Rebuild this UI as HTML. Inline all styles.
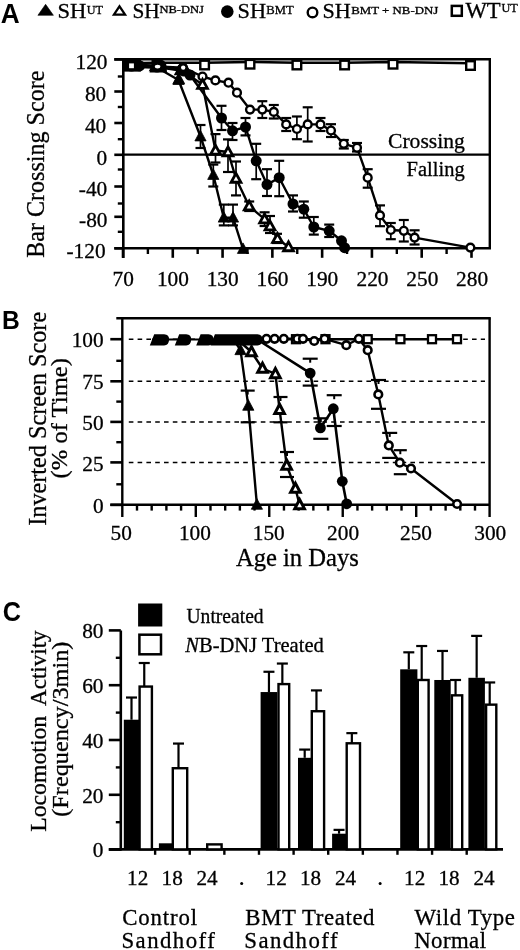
<!DOCTYPE html>
<html><head><meta charset="utf-8"><title>Figure</title>
<style>
html,body{margin:0;padding:0;background:#fff;}
body{width:520px;height:950px;overflow:hidden;font-family:"Liberation Serif", serif;}
svg{display:block;filter:grayscale(1);}
</style></head>
<body>
<svg width="520" height="950" viewBox="0 0 520 950">
<rect width="520" height="950" fill="#fff"/>
<polygon points="37.9,15.3 53.4,15.3 45.6,4.3" fill="#000" stroke="#000" stroke-width="0.6" stroke-linejoin="round"/>
<polygon points="113.9,14.6 125.1,14.6 119.5,6.3" fill="#fff" stroke="#000" stroke-width="2.2"/>
<circle cx="227.3" cy="11.6" r="6.3" fill="#000"/>
<circle cx="312.5" cy="12.4" r="4.8" fill="#fff" stroke="#000" stroke-width="2.4"/>
<rect x="451.8" y="5.9" width="10" height="9.9" fill="#fff" stroke="#000" stroke-width="2.5"/>
<line x1="123.3" y1="58.1" x2="123.3" y2="258" stroke="#000" stroke-width="2.6" />
<line x1="114.3" y1="59.3" x2="491" y2="59.3" stroke="#000" stroke-width="2.6" />
<line x1="489.8" y1="59.3" x2="489.8" y2="248.3" stroke="#000" stroke-width="2.4" />
<line x1="114.3" y1="248.3" x2="491" y2="248.3" stroke="#000" stroke-width="2.6" />
<line x1="114.3" y1="59.5" x2="123.3" y2="59.5" stroke="#000" stroke-width="2.6" />
<line x1="114.3" y1="91.5" x2="123.3" y2="91.5" stroke="#000" stroke-width="2.6" />
<line x1="114.3" y1="123" x2="123.3" y2="123" stroke="#000" stroke-width="2.6" />
<line x1="114.3" y1="154.8" x2="123.3" y2="154.8" stroke="#000" stroke-width="2.6" />
<line x1="114.3" y1="186.5" x2="123.3" y2="186.5" stroke="#000" stroke-width="2.6" />
<line x1="114.3" y1="216.8" x2="123.3" y2="216.8" stroke="#000" stroke-width="2.6" />
<line x1="114.3" y1="248.3" x2="123.3" y2="248.3" stroke="#000" stroke-width="2.6" />
<line x1="117.8" y1="76.5" x2="123.3" y2="76.5" stroke="#000" stroke-width="2.4" />
<line x1="117.8" y1="107" x2="123.3" y2="107" stroke="#000" stroke-width="2.4" />
<line x1="117.8" y1="139.2" x2="123.3" y2="139.2" stroke="#000" stroke-width="2.4" />
<line x1="117.8" y1="169.5" x2="123.3" y2="169.5" stroke="#000" stroke-width="2.4" />
<line x1="117.8" y1="203.5" x2="123.3" y2="203.5" stroke="#000" stroke-width="2.4" />
<line x1="117.8" y1="231.8" x2="123.3" y2="231.8" stroke="#000" stroke-width="2.4" />
<line x1="123" y1="248.3" x2="123" y2="257.8" stroke="#000" stroke-width="2.6" />
<line x1="147.89" y1="248.3" x2="147.89" y2="254" stroke="#000" stroke-width="2.4" />
<line x1="172.78" y1="248.3" x2="172.78" y2="257.8" stroke="#000" stroke-width="2.6" />
<line x1="197.68" y1="248.3" x2="197.68" y2="254" stroke="#000" stroke-width="2.4" />
<line x1="222.57" y1="248.3" x2="222.57" y2="257.8" stroke="#000" stroke-width="2.6" />
<line x1="247.46" y1="248.3" x2="247.46" y2="254" stroke="#000" stroke-width="2.4" />
<line x1="272.36" y1="248.3" x2="272.36" y2="257.8" stroke="#000" stroke-width="2.6" />
<line x1="297.25" y1="248.3" x2="297.25" y2="254" stroke="#000" stroke-width="2.4" />
<line x1="322.14" y1="248.3" x2="322.14" y2="257.8" stroke="#000" stroke-width="2.6" />
<line x1="347.03" y1="248.3" x2="347.03" y2="254" stroke="#000" stroke-width="2.4" />
<line x1="371.92" y1="248.3" x2="371.92" y2="257.8" stroke="#000" stroke-width="2.6" />
<line x1="396.82" y1="248.3" x2="396.82" y2="254" stroke="#000" stroke-width="2.4" />
<line x1="421.71" y1="248.3" x2="421.71" y2="257.8" stroke="#000" stroke-width="2.6" />
<line x1="446.6" y1="248.3" x2="446.6" y2="254" stroke="#000" stroke-width="2.4" />
<line x1="471.5" y1="248.3" x2="471.5" y2="257.8" stroke="#000" stroke-width="2.6" />
<line x1="123.3" y1="154.6" x2="489.8" y2="154.6" stroke="#000" stroke-width="2.2" />
<polyline points="131.5,63.3 157,62.8 204.6,62.8 250,62 296.9,62.8 344.6,62.8 393,62 470.5,63.3" fill="none" stroke="#000" stroke-width="2.4" stroke-linejoin="round"/>
<polyline points="131.5,66 157.5,66.5 183,67.7 202.5,76.5 215.4,80.4 228.5,82.7 237,92.7 250,109.6 262.3,109.6 273.8,111.9 286.2,124.4 296.9,129 307.7,124.4 320.5,124.4 331,130.5 343.8,143.8 357,147.7 367.7,177.7 380,215.4 390.8,230 403.8,230.8 414.6,237.6 470.4,247.6" fill="none" stroke="#000" stroke-width="2.4" stroke-linejoin="round"/>
<polyline points="131.5,66 157,67 184,71 190,75 221.5,118 232.5,130.8 245.5,127 256.2,160.8 267,184.6 279.2,177.7 293,204 303.8,209.2 313.8,227 329.2,230.8 341.5,240.8 344.6,247.7" fill="none" stroke="#000" stroke-width="2.4" stroke-linejoin="round"/>
<polyline points="131.5,66 156,66 181,70 202.5,84.6 215.5,150.5 228,152 236,178.5 249.2,206.2 264.6,219.2 270,226.2 277.5,238.7 288.5,247" fill="none" stroke="#000" stroke-width="2.4" stroke-linejoin="round"/>
<polyline points="131.5,66 156,67 178.5,80 200.5,136.5 213.3,175 223.8,217.7 233,217.7 243,249" fill="none" stroke="#000" stroke-width="2.4" stroke-linejoin="round"/>
<line x1="262.3" y1="101.2" x2="262.3" y2="118" stroke="#000" stroke-width="1.7" />
<line x1="257.3" y1="101.2" x2="267.3" y2="101.2" stroke="#000" stroke-width="2.2" />
<line x1="257.3" y1="118" x2="267.3" y2="118" stroke="#000" stroke-width="2.2" />
<line x1="273.8" y1="105" x2="273.8" y2="118.5" stroke="#000" stroke-width="1.7" />
<line x1="268.8" y1="105" x2="278.8" y2="105" stroke="#000" stroke-width="2.2" />
<line x1="268.8" y1="118.5" x2="278.8" y2="118.5" stroke="#000" stroke-width="2.2" />
<line x1="286.2" y1="118" x2="286.2" y2="131" stroke="#000" stroke-width="1.7" />
<line x1="281.2" y1="118" x2="291.2" y2="118" stroke="#000" stroke-width="2.2" />
<line x1="281.2" y1="131" x2="291.2" y2="131" stroke="#000" stroke-width="2.2" />
<line x1="296.9" y1="116.5" x2="296.9" y2="139.2" stroke="#000" stroke-width="1.7" />
<line x1="291.9" y1="116.5" x2="301.9" y2="116.5" stroke="#000" stroke-width="2.2" />
<line x1="291.9" y1="139.2" x2="301.9" y2="139.2" stroke="#000" stroke-width="2.2" />
<line x1="307.7" y1="107.3" x2="307.7" y2="141.5" stroke="#000" stroke-width="1.7" />
<line x1="302.7" y1="107.3" x2="312.7" y2="107.3" stroke="#000" stroke-width="2.2" />
<line x1="302.7" y1="141.5" x2="312.7" y2="141.5" stroke="#000" stroke-width="2.2" />
<line x1="320.5" y1="118" x2="320.5" y2="131" stroke="#000" stroke-width="1.7" />
<line x1="315.5" y1="118" x2="325.5" y2="118" stroke="#000" stroke-width="2.2" />
<line x1="315.5" y1="131" x2="325.5" y2="131" stroke="#000" stroke-width="2.2" />
<line x1="331" y1="124.2" x2="331" y2="137" stroke="#000" stroke-width="1.7" />
<line x1="326" y1="124.2" x2="336" y2="124.2" stroke="#000" stroke-width="2.2" />
<line x1="326" y1="137" x2="336" y2="137" stroke="#000" stroke-width="2.2" />
<line x1="343.8" y1="140" x2="343.8" y2="148.5" stroke="#000" stroke-width="1.7" />
<line x1="338.8" y1="140" x2="348.8" y2="140" stroke="#000" stroke-width="2.2" />
<line x1="338.8" y1="148.5" x2="348.8" y2="148.5" stroke="#000" stroke-width="2.2" />
<line x1="357" y1="143" x2="357" y2="151.5" stroke="#000" stroke-width="1.7" />
<line x1="352" y1="143" x2="362" y2="143" stroke="#000" stroke-width="2.2" />
<line x1="352" y1="151.5" x2="362" y2="151.5" stroke="#000" stroke-width="2.2" />
<line x1="367.7" y1="169.2" x2="367.7" y2="187.7" stroke="#000" stroke-width="1.7" />
<line x1="362.7" y1="169.2" x2="372.7" y2="169.2" stroke="#000" stroke-width="2.2" />
<line x1="362.7" y1="187.7" x2="372.7" y2="187.7" stroke="#000" stroke-width="2.2" />
<line x1="380" y1="205.4" x2="380" y2="226.2" stroke="#000" stroke-width="1.7" />
<line x1="375" y1="205.4" x2="385" y2="205.4" stroke="#000" stroke-width="2.2" />
<line x1="375" y1="226.2" x2="385" y2="226.2" stroke="#000" stroke-width="2.2" />
<line x1="390.8" y1="223" x2="390.8" y2="239.2" stroke="#000" stroke-width="1.7" />
<line x1="385.8" y1="223" x2="395.8" y2="223" stroke="#000" stroke-width="2.2" />
<line x1="385.8" y1="239.2" x2="395.8" y2="239.2" stroke="#000" stroke-width="2.2" />
<line x1="403.8" y1="220" x2="403.8" y2="241.5" stroke="#000" stroke-width="1.7" />
<line x1="398.8" y1="220" x2="408.8" y2="220" stroke="#000" stroke-width="2.2" />
<line x1="398.8" y1="241.5" x2="408.8" y2="241.5" stroke="#000" stroke-width="2.2" />
<line x1="414.6" y1="230.3" x2="414.6" y2="244.5" stroke="#000" stroke-width="1.7" />
<line x1="409.6" y1="230.3" x2="419.6" y2="230.3" stroke="#000" stroke-width="2.2" />
<line x1="409.6" y1="244.5" x2="419.6" y2="244.5" stroke="#000" stroke-width="2.2" />
<line x1="221.5" y1="105.8" x2="221.5" y2="130" stroke="#000" stroke-width="1.7" />
<line x1="216.5" y1="105.8" x2="226.5" y2="105.8" stroke="#000" stroke-width="2.2" />
<line x1="216.5" y1="130" x2="226.5" y2="130" stroke="#000" stroke-width="2.2" />
<line x1="232.5" y1="123" x2="232.5" y2="140" stroke="#000" stroke-width="1.7" />
<line x1="227.5" y1="123" x2="237.5" y2="123" stroke="#000" stroke-width="2.2" />
<line x1="227.5" y1="140" x2="237.5" y2="140" stroke="#000" stroke-width="2.2" />
<line x1="245.5" y1="118" x2="245.5" y2="135.4" stroke="#000" stroke-width="1.7" />
<line x1="240.5" y1="118" x2="250.5" y2="118" stroke="#000" stroke-width="2.2" />
<line x1="240.5" y1="135.4" x2="250.5" y2="135.4" stroke="#000" stroke-width="2.2" />
<line x1="256.2" y1="143.8" x2="256.2" y2="179.2" stroke="#000" stroke-width="1.7" />
<line x1="251.2" y1="143.8" x2="261.2" y2="143.8" stroke="#000" stroke-width="2.2" />
<line x1="251.2" y1="179.2" x2="261.2" y2="179.2" stroke="#000" stroke-width="2.2" />
<line x1="267" y1="169.2" x2="267" y2="196" stroke="#000" stroke-width="1.7" />
<line x1="262" y1="169.2" x2="272" y2="169.2" stroke="#000" stroke-width="2.2" />
<line x1="262" y1="196" x2="272" y2="196" stroke="#000" stroke-width="2.2" />
<line x1="279.2" y1="160.8" x2="279.2" y2="196.2" stroke="#000" stroke-width="1.7" />
<line x1="274.2" y1="160.8" x2="284.2" y2="160.8" stroke="#000" stroke-width="2.2" />
<line x1="274.2" y1="196.2" x2="284.2" y2="196.2" stroke="#000" stroke-width="2.2" />
<line x1="293" y1="195.4" x2="293" y2="211.5" stroke="#000" stroke-width="1.7" />
<line x1="288" y1="195.4" x2="298" y2="195.4" stroke="#000" stroke-width="2.2" />
<line x1="288" y1="211.5" x2="298" y2="211.5" stroke="#000" stroke-width="2.2" />
<line x1="303.8" y1="201.5" x2="303.8" y2="217.7" stroke="#000" stroke-width="1.7" />
<line x1="298.8" y1="201.5" x2="308.8" y2="201.5" stroke="#000" stroke-width="2.2" />
<line x1="298.8" y1="217.7" x2="308.8" y2="217.7" stroke="#000" stroke-width="2.2" />
<line x1="313.8" y1="217" x2="313.8" y2="234.6" stroke="#000" stroke-width="1.7" />
<line x1="308.8" y1="217" x2="318.8" y2="217" stroke="#000" stroke-width="2.2" />
<line x1="308.8" y1="234.6" x2="318.8" y2="234.6" stroke="#000" stroke-width="2.2" />
<line x1="329.2" y1="224.6" x2="329.2" y2="237" stroke="#000" stroke-width="1.7" />
<line x1="324.2" y1="224.6" x2="334.2" y2="224.6" stroke="#000" stroke-width="2.2" />
<line x1="324.2" y1="237" x2="334.2" y2="237" stroke="#000" stroke-width="2.2" />
<line x1="215.5" y1="134.1" x2="215.5" y2="162.5" stroke="#000" stroke-width="1.7" />
<line x1="210.5" y1="134.1" x2="220.5" y2="134.1" stroke="#000" stroke-width="2.2" />
<line x1="210.5" y1="162.5" x2="220.5" y2="162.5" stroke="#000" stroke-width="2.2" />
<line x1="228" y1="139.4" x2="228" y2="172" stroke="#000" stroke-width="1.7" />
<line x1="223" y1="139.4" x2="233" y2="139.4" stroke="#000" stroke-width="2.2" />
<line x1="223" y1="172" x2="233" y2="172" stroke="#000" stroke-width="2.2" />
<line x1="236" y1="161.5" x2="236" y2="195.4" stroke="#000" stroke-width="1.7" />
<line x1="231" y1="161.5" x2="241" y2="161.5" stroke="#000" stroke-width="2.2" />
<line x1="231" y1="195.4" x2="241" y2="195.4" stroke="#000" stroke-width="2.2" />
<line x1="249.2" y1="201.5" x2="249.2" y2="211" stroke="#000" stroke-width="1.7" />
<line x1="244.2" y1="201.5" x2="254.2" y2="201.5" stroke="#000" stroke-width="2.2" />
<line x1="244.2" y1="211" x2="254.2" y2="211" stroke="#000" stroke-width="2.2" />
<line x1="264.6" y1="212.3" x2="264.6" y2="226" stroke="#000" stroke-width="1.7" />
<line x1="259.6" y1="212.3" x2="269.6" y2="212.3" stroke="#000" stroke-width="2.2" />
<line x1="259.6" y1="226" x2="269.6" y2="226" stroke="#000" stroke-width="2.2" />
<line x1="270" y1="216" x2="270" y2="233" stroke="#000" stroke-width="1.7" />
<line x1="265" y1="216" x2="275" y2="216" stroke="#000" stroke-width="2.2" />
<line x1="265" y1="233" x2="275" y2="233" stroke="#000" stroke-width="2.2" />
<line x1="277" y1="233.8" x2="277" y2="243" stroke="#000" stroke-width="1.7" />
<line x1="272" y1="233.8" x2="282" y2="233.8" stroke="#000" stroke-width="2.2" />
<line x1="272" y1="243" x2="282" y2="243" stroke="#000" stroke-width="2.2" />
<line x1="200.5" y1="125" x2="200.5" y2="148" stroke="#000" stroke-width="1.7" />
<line x1="195.5" y1="125" x2="205.5" y2="125" stroke="#000" stroke-width="2.2" />
<line x1="195.5" y1="148" x2="205.5" y2="148" stroke="#000" stroke-width="2.2" />
<line x1="213.3" y1="164.6" x2="213.3" y2="186.5" stroke="#000" stroke-width="1.7" />
<line x1="208.3" y1="164.6" x2="218.3" y2="164.6" stroke="#000" stroke-width="2.2" />
<line x1="208.3" y1="186.5" x2="218.3" y2="186.5" stroke="#000" stroke-width="2.2" />
<line x1="223.8" y1="204.6" x2="223.8" y2="225.4" stroke="#000" stroke-width="1.7" />
<line x1="218.8" y1="204.6" x2="228.8" y2="204.6" stroke="#000" stroke-width="2.2" />
<line x1="218.8" y1="225.4" x2="228.8" y2="225.4" stroke="#000" stroke-width="2.2" />
<line x1="233" y1="204.6" x2="233" y2="225.4" stroke="#000" stroke-width="1.7" />
<line x1="228" y1="204.6" x2="238" y2="204.6" stroke="#000" stroke-width="2.2" />
<line x1="228" y1="225.4" x2="238" y2="225.4" stroke="#000" stroke-width="2.2" />
<rect x="127.2" y="61.2" width="8.6" height="8.6" fill="#fff" stroke="#000" stroke-width="2.4"/>
<rect x="152.7" y="60.7" width="8.6" height="8.6" fill="#fff" stroke="#000" stroke-width="2.4"/>
<rect x="200.3" y="60.7" width="8.6" height="8.6" fill="#fff" stroke="#000" stroke-width="2.4"/>
<rect x="245.7" y="59.9" width="8.6" height="8.6" fill="#fff" stroke="#000" stroke-width="2.4"/>
<rect x="292.6" y="60.7" width="8.6" height="8.6" fill="#fff" stroke="#000" stroke-width="2.4"/>
<rect x="340.3" y="60.7" width="8.6" height="8.6" fill="#fff" stroke="#000" stroke-width="2.4"/>
<rect x="388.7" y="59.9" width="8.6" height="8.6" fill="#fff" stroke="#000" stroke-width="2.4"/>
<rect x="466.2" y="61.2" width="8.6" height="8.6" fill="#fff" stroke="#000" stroke-width="2.4"/>
<circle cx="131.5" cy="66" r="3.9" fill="#fff" stroke="#000" stroke-width="2.4"/>
<circle cx="157.5" cy="66.5" r="3.9" fill="#fff" stroke="#000" stroke-width="2.4"/>
<circle cx="183" cy="67.7" r="3.9" fill="#fff" stroke="#000" stroke-width="2.4"/>
<circle cx="202.5" cy="76.5" r="3.9" fill="#fff" stroke="#000" stroke-width="2.4"/>
<circle cx="215.4" cy="80.4" r="3.9" fill="#fff" stroke="#000" stroke-width="2.4"/>
<circle cx="228.5" cy="82.7" r="3.9" fill="#fff" stroke="#000" stroke-width="2.4"/>
<circle cx="237" cy="92.7" r="3.9" fill="#fff" stroke="#000" stroke-width="2.4"/>
<circle cx="250" cy="109.6" r="3.9" fill="#fff" stroke="#000" stroke-width="2.4"/>
<circle cx="262.3" cy="109.6" r="3.9" fill="#fff" stroke="#000" stroke-width="2.4"/>
<circle cx="273.8" cy="111.9" r="3.9" fill="#fff" stroke="#000" stroke-width="2.4"/>
<circle cx="286.2" cy="124.4" r="3.9" fill="#fff" stroke="#000" stroke-width="2.4"/>
<circle cx="296.9" cy="129" r="3.9" fill="#fff" stroke="#000" stroke-width="2.4"/>
<circle cx="307.7" cy="124.4" r="3.9" fill="#fff" stroke="#000" stroke-width="2.4"/>
<circle cx="320.5" cy="124.4" r="3.9" fill="#fff" stroke="#000" stroke-width="2.4"/>
<circle cx="331" cy="130.5" r="3.9" fill="#fff" stroke="#000" stroke-width="2.4"/>
<circle cx="343.8" cy="143.8" r="3.9" fill="#fff" stroke="#000" stroke-width="2.4"/>
<circle cx="357" cy="147.7" r="3.9" fill="#fff" stroke="#000" stroke-width="2.4"/>
<circle cx="367.7" cy="177.7" r="3.9" fill="#fff" stroke="#000" stroke-width="2.4"/>
<circle cx="380" cy="215.4" r="3.9" fill="#fff" stroke="#000" stroke-width="2.4"/>
<circle cx="390.8" cy="230" r="3.9" fill="#fff" stroke="#000" stroke-width="2.4"/>
<circle cx="403.8" cy="230.8" r="3.9" fill="#fff" stroke="#000" stroke-width="2.4"/>
<circle cx="414.6" cy="237.6" r="3.9" fill="#fff" stroke="#000" stroke-width="2.4"/>
<circle cx="470.4" cy="247.6" r="3.9" fill="#fff" stroke="#000" stroke-width="2.4"/>
<polygon points="131.5,60.84 126.6,69.74 136.4,69.74" fill="#fff" stroke="#000" stroke-width="2.8" stroke-linejoin="miter"/>
<polygon points="156,60.84 151.1,69.74 160.9,69.74" fill="#fff" stroke="#000" stroke-width="2.8" stroke-linejoin="miter"/>
<polygon points="181,64.84 176.1,73.74 185.9,73.74" fill="#fff" stroke="#000" stroke-width="2.8" stroke-linejoin="miter"/>
<polygon points="202.5,79.44 197.6,88.34 207.4,88.34" fill="#fff" stroke="#000" stroke-width="2.8" stroke-linejoin="miter"/>
<polygon points="215.5,145.34 210.6,154.24 220.4,154.24" fill="#fff" stroke="#000" stroke-width="2.8" stroke-linejoin="miter"/>
<polygon points="228,146.84 223.1,155.74 232.9,155.74" fill="#fff" stroke="#000" stroke-width="2.8" stroke-linejoin="miter"/>
<polygon points="236,173.34 231.1,182.24 240.9,182.24" fill="#fff" stroke="#000" stroke-width="2.8" stroke-linejoin="miter"/>
<polygon points="249.2,201.04 244.3,209.94 254.1,209.94" fill="#fff" stroke="#000" stroke-width="2.8" stroke-linejoin="miter"/>
<polygon points="264.6,214.04 259.7,222.94 269.5,222.94" fill="#fff" stroke="#000" stroke-width="2.8" stroke-linejoin="miter"/>
<polygon points="270,221.04 265.1,229.94 274.9,229.94" fill="#fff" stroke="#000" stroke-width="2.8" stroke-linejoin="miter"/>
<polygon points="277.5,233.54 272.6,242.44 282.4,242.44" fill="#fff" stroke="#000" stroke-width="2.8" stroke-linejoin="miter"/>
<polygon points="288.5,241.84 283.6,250.74 293.4,250.74" fill="#fff" stroke="#000" stroke-width="2.8" stroke-linejoin="miter"/>
<circle cx="131.5" cy="66" r="5.5" fill="#000"/>
<circle cx="157" cy="67" r="5.5" fill="#000"/>
<circle cx="184" cy="71" r="5.5" fill="#000"/>
<circle cx="190" cy="75" r="5.5" fill="#000"/>
<circle cx="221.5" cy="118" r="5.5" fill="#000"/>
<circle cx="232.5" cy="130.8" r="5.5" fill="#000"/>
<circle cx="245.5" cy="127" r="5.5" fill="#000"/>
<circle cx="256.2" cy="160.8" r="5.5" fill="#000"/>
<circle cx="267" cy="184.6" r="5.5" fill="#000"/>
<circle cx="279.2" cy="177.7" r="5.5" fill="#000"/>
<circle cx="293" cy="204" r="5.5" fill="#000"/>
<circle cx="303.8" cy="209.2" r="5.5" fill="#000"/>
<circle cx="313.8" cy="227" r="5.5" fill="#000"/>
<circle cx="329.2" cy="230.8" r="5.5" fill="#000"/>
<circle cx="341.5" cy="240.8" r="5.5" fill="#000"/>
<circle cx="344.6" cy="247.7" r="5.5" fill="#000"/>
<polygon points="131.5,59.91 125.9,70.41 137.1,70.41" fill="#000" stroke="#000" stroke-width="0.8" stroke-linejoin="round"/>
<polygon points="156,60.91 150.4,71.41 161.6,71.41" fill="#000" stroke="#000" stroke-width="0.8" stroke-linejoin="round"/>
<polygon points="178.5,73.91 172.9,84.41 184.1,84.41" fill="#000" stroke="#000" stroke-width="0.8" stroke-linejoin="round"/>
<polygon points="200.5,130.41 194.9,140.91 206.1,140.91" fill="#000" stroke="#000" stroke-width="0.8" stroke-linejoin="round"/>
<polygon points="213.3,168.91 207.7,179.41 218.9,179.41" fill="#000" stroke="#000" stroke-width="0.8" stroke-linejoin="round"/>
<polygon points="223.8,211.61 218.2,222.11 229.4,222.11" fill="#000" stroke="#000" stroke-width="0.8" stroke-linejoin="round"/>
<polygon points="233,211.61 227.4,222.11 238.6,222.11" fill="#000" stroke="#000" stroke-width="0.8" stroke-linejoin="round"/>
<polygon points="243,242.91 237.4,253.41 248.6,253.41" fill="#000" stroke="#000" stroke-width="0.8" stroke-linejoin="round"/>
<rect x="123" y="59" width="18" height="12.5" fill="#000" stroke="none" stroke-width="0"/>
<circle cx="139.5" cy="65.8" r="5.6" fill="#000"/>
<line x1="140" y1="66" x2="152" y2="66.5" stroke="#000" stroke-width="4.5" />
<path d="M149.5,72.5 L153.5,60 L162,60 Q166,61 166.5,66 L167,72.5 Z" fill="#000"/>
<ellipse cx="157.6" cy="66.6" rx="2.8" ry="1.9" fill="#fff"/>
<polygon points="178.8,72.82 172.9,83.82 184.7,83.82" fill="#000" stroke="#000" stroke-width="0.8" stroke-linejoin="round"/>
<circle cx="182.5" cy="69" r="5.8" fill="#000"/>
<circle cx="183.2" cy="67.6" r="3" fill="#fff" stroke="#000" stroke-width="1.6"/>
<rect x="128" y="62.3" width="7" height="7" fill="#fff" stroke="#000" stroke-width="2.2"/>
<line x1="122.3" y1="317.1" x2="122.3" y2="517" stroke="#000" stroke-width="2.4" />
<line x1="116.3" y1="318.3" x2="490.8" y2="318.3" stroke="#000" stroke-width="2.4" />
<line x1="489.6" y1="318.3" x2="489.6" y2="517" stroke="#000" stroke-width="2.4" />
<line x1="110.3" y1="504.8" x2="489.6" y2="504.8" stroke="#000" stroke-width="2.4" />
<line x1="110.3" y1="339.2" x2="122.3" y2="339.2" stroke="#000" stroke-width="2.6" />
<line x1="128.8" y1="339.2" x2="485" y2="339.2" stroke="#000" stroke-width="1.5" stroke-dasharray="4.6 4.2" stroke="#222"/>
<line x1="110.3" y1="381.3" x2="122.3" y2="381.3" stroke="#000" stroke-width="2.6" />
<line x1="128.8" y1="381.3" x2="485" y2="381.3" stroke="#000" stroke-width="1.5" stroke-dasharray="4.6 4.2" stroke="#222"/>
<line x1="110.3" y1="421.9" x2="122.3" y2="421.9" stroke="#000" stroke-width="2.6" />
<line x1="128.8" y1="421.9" x2="485" y2="421.9" stroke="#000" stroke-width="1.5" stroke-dasharray="4.6 4.2" stroke="#222"/>
<line x1="110.3" y1="462.4" x2="122.3" y2="462.4" stroke="#000" stroke-width="2.6" />
<line x1="128.8" y1="462.4" x2="485" y2="462.4" stroke="#000" stroke-width="1.5" stroke-dasharray="4.6 4.2" stroke="#222"/>
<line x1="110.3" y1="504.9" x2="122.3" y2="504.9" stroke="#000" stroke-width="2.6" />
<line x1="116.3" y1="360.8" x2="122.3" y2="360.8" stroke="#000" stroke-width="2.4" />
<line x1="116.3" y1="401.6" x2="122.3" y2="401.6" stroke="#000" stroke-width="2.4" />
<line x1="116.3" y1="442.2" x2="122.3" y2="442.2" stroke="#000" stroke-width="2.4" />
<line x1="116.3" y1="484.3" x2="122.3" y2="484.3" stroke="#000" stroke-width="2.4" />
<line x1="137" y1="504.8" x2="137" y2="510.6" stroke="#000" stroke-width="2.4" />
<line x1="151.69" y1="504.8" x2="151.69" y2="510.6" stroke="#000" stroke-width="2.4" />
<line x1="166.39" y1="504.8" x2="166.39" y2="510.6" stroke="#000" stroke-width="2.4" />
<line x1="181.08" y1="504.8" x2="181.08" y2="510.6" stroke="#000" stroke-width="2.4" />
<line x1="195.78" y1="504.8" x2="195.78" y2="517" stroke="#000" stroke-width="2.4" />
<line x1="210.48" y1="504.8" x2="210.48" y2="510.6" stroke="#000" stroke-width="2.4" />
<line x1="225.17" y1="504.8" x2="225.17" y2="510.6" stroke="#000" stroke-width="2.4" />
<line x1="239.87" y1="504.8" x2="239.87" y2="510.6" stroke="#000" stroke-width="2.4" />
<line x1="254.56" y1="504.8" x2="254.56" y2="510.6" stroke="#000" stroke-width="2.4" />
<line x1="269.26" y1="504.8" x2="269.26" y2="517" stroke="#000" stroke-width="2.4" />
<line x1="283.96" y1="504.8" x2="283.96" y2="510.6" stroke="#000" stroke-width="2.4" />
<line x1="298.65" y1="504.8" x2="298.65" y2="510.6" stroke="#000" stroke-width="2.4" />
<line x1="313.35" y1="504.8" x2="313.35" y2="510.6" stroke="#000" stroke-width="2.4" />
<line x1="328.04" y1="504.8" x2="328.04" y2="510.6" stroke="#000" stroke-width="2.4" />
<line x1="342.74" y1="504.8" x2="342.74" y2="517" stroke="#000" stroke-width="2.4" />
<line x1="357.44" y1="504.8" x2="357.44" y2="510.6" stroke="#000" stroke-width="2.4" />
<line x1="372.13" y1="504.8" x2="372.13" y2="510.6" stroke="#000" stroke-width="2.4" />
<line x1="386.83" y1="504.8" x2="386.83" y2="510.6" stroke="#000" stroke-width="2.4" />
<line x1="401.52" y1="504.8" x2="401.52" y2="510.6" stroke="#000" stroke-width="2.4" />
<line x1="416.22" y1="504.8" x2="416.22" y2="517" stroke="#000" stroke-width="2.4" />
<line x1="430.92" y1="504.8" x2="430.92" y2="510.6" stroke="#000" stroke-width="2.4" />
<line x1="445.61" y1="504.8" x2="445.61" y2="510.6" stroke="#000" stroke-width="2.4" />
<line x1="460.31" y1="504.8" x2="460.31" y2="510.6" stroke="#000" stroke-width="2.4" />
<line x1="475" y1="504.8" x2="475" y2="510.6" stroke="#000" stroke-width="2.4" />
<line x1="152" y1="339.5" x2="300" y2="339.5" stroke="#000" stroke-width="2.2" />
<polyline points="296,339.2 325.5,339.2 367.7,339.2 400.4,339.2 432,339.2 457,339.2" fill="none" stroke="#000" stroke-width="2.4" stroke-linejoin="round"/>
<polyline points="258,339.2 266.5,338.8 274.6,338.8 283.8,338.8 297.3,338.8 303,338.8 314.2,341 324.6,338.8 346.3,345.2 358.8,338.8 367.7,350.2 378.3,394.4 388.8,445.4 399.8,462.7 411,468.5 457.1,504" fill="none" stroke="#000" stroke-width="2.4" stroke-linejoin="round"/>
<polyline points="238,340 251.5,352 262.5,368.5 275.4,373.8 279.6,409.6 286.7,465.4 295.4,488.5 299.6,504.8" fill="none" stroke="#000" stroke-width="2.4" stroke-linejoin="round"/>
<polyline points="250,340 258,340 310.2,373.1 320.4,427.9 333.3,408.7 342.3,481.3 346.7,503.8" fill="none" stroke="#000" stroke-width="2.6" stroke-linejoin="round"/>
<polyline points="234,340 240.5,350.2 248.3,405.8 256.9,504.8" fill="none" stroke="#000" stroke-width="2.4" stroke-linejoin="round"/>
<line x1="240.7" y1="390.6" x2="254.7" y2="390.6" stroke="#000" stroke-width="2.2" />
<line x1="240.7" y1="422.3" x2="254.7" y2="422.3" stroke="#000" stroke-width="2.2" />
<line x1="247.7" y1="390.6" x2="247.7" y2="394.6" stroke="#000" stroke-width="2" />
<line x1="273.5" y1="397" x2="287.5" y2="397" stroke="#000" stroke-width="2.2" />
<line x1="273.5" y1="422.3" x2="287.5" y2="422.3" stroke="#000" stroke-width="2.2" />
<line x1="280.5" y1="397" x2="280.5" y2="401" stroke="#000" stroke-width="2" />
<line x1="280" y1="452" x2="294" y2="452" stroke="#000" stroke-width="2.2" />
<line x1="280" y1="477" x2="294" y2="477" stroke="#000" stroke-width="2.2" />
<line x1="287" y1="452" x2="287" y2="456" stroke="#000" stroke-width="2" />
<line x1="302.7" y1="358.7" x2="317.7" y2="358.7" stroke="#000" stroke-width="2.2" />
<line x1="302.7" y1="385.6" x2="317.7" y2="385.6" stroke="#000" stroke-width="2.2" />
<line x1="310.2" y1="358.7" x2="310.2" y2="362.7" stroke="#000" stroke-width="2" />
<line x1="313.3" y1="418.3" x2="328.3" y2="418.3" stroke="#000" stroke-width="2.2" />
<line x1="313.3" y1="438.8" x2="328.3" y2="438.8" stroke="#000" stroke-width="2.2" />
<line x1="320.8" y1="418.3" x2="320.8" y2="422.3" stroke="#000" stroke-width="2" />
<line x1="326.7" y1="395.2" x2="341.7" y2="395.2" stroke="#000" stroke-width="2.2" />
<line x1="326.7" y1="426" x2="341.7" y2="426" stroke="#000" stroke-width="2.2" />
<line x1="334.2" y1="395.2" x2="334.2" y2="399.2" stroke="#000" stroke-width="2" />
<line x1="371" y1="380" x2="386" y2="380" stroke="#000" stroke-width="2.2" />
<line x1="371" y1="408.8" x2="386" y2="408.8" stroke="#000" stroke-width="2.2" />
<line x1="378.5" y1="380" x2="378.5" y2="384" stroke="#000" stroke-width="2" />
<line x1="382.2" y1="432.9" x2="397.2" y2="432.9" stroke="#000" stroke-width="2.2" />
<line x1="382.2" y1="457.9" x2="397.2" y2="457.9" stroke="#000" stroke-width="2.2" />
<line x1="389.7" y1="432.9" x2="389.7" y2="436.9" stroke="#000" stroke-width="2" />
<line x1="393.8" y1="450.2" x2="406.8" y2="450.2" stroke="#000" stroke-width="2.2" />
<line x1="393.8" y1="474.2" x2="406.8" y2="474.2" stroke="#000" stroke-width="2.2" />
<line x1="400.3" y1="450.2" x2="400.3" y2="454.2" stroke="#000" stroke-width="2" />
<rect x="292" y="335.2" width="8" height="8" fill="#fff" stroke="#000" stroke-width="2.3"/>
<rect x="321.5" y="335.2" width="8" height="8" fill="#fff" stroke="#000" stroke-width="2.3"/>
<rect x="363.7" y="335.2" width="8" height="8" fill="#fff" stroke="#000" stroke-width="2.3"/>
<rect x="396.4" y="335.2" width="8" height="8" fill="#fff" stroke="#000" stroke-width="2.3"/>
<rect x="428" y="335.2" width="8" height="8" fill="#fff" stroke="#000" stroke-width="2.3"/>
<rect x="453" y="335.2" width="8" height="8" fill="#fff" stroke="#000" stroke-width="2.3"/>
<circle cx="266.5" cy="338.8" r="3.8" fill="#fff" stroke="#000" stroke-width="2.6"/>
<circle cx="274.6" cy="338.8" r="3.8" fill="#fff" stroke="#000" stroke-width="2.6"/>
<circle cx="283.8" cy="338.8" r="3.8" fill="#fff" stroke="#000" stroke-width="2.6"/>
<circle cx="297.3" cy="338.8" r="3.8" fill="#fff" stroke="#000" stroke-width="2.6"/>
<circle cx="303" cy="338.8" r="3.8" fill="#fff" stroke="#000" stroke-width="2.6"/>
<circle cx="314.2" cy="341" r="3.8" fill="#fff" stroke="#000" stroke-width="2.6"/>
<circle cx="324.6" cy="338.8" r="3.8" fill="#fff" stroke="#000" stroke-width="2.6"/>
<circle cx="346.3" cy="345.2" r="3.8" fill="#fff" stroke="#000" stroke-width="2.6"/>
<circle cx="358.8" cy="338.8" r="3.8" fill="#fff" stroke="#000" stroke-width="2.6"/>
<circle cx="367.7" cy="350.2" r="3.8" fill="#fff" stroke="#000" stroke-width="2.6"/>
<circle cx="378.3" cy="394.4" r="3.8" fill="#fff" stroke="#000" stroke-width="2.6"/>
<circle cx="388.8" cy="445.4" r="3.8" fill="#fff" stroke="#000" stroke-width="2.6"/>
<circle cx="399.8" cy="462.7" r="3.8" fill="#fff" stroke="#000" stroke-width="2.6"/>
<circle cx="411" cy="468.5" r="3.8" fill="#fff" stroke="#000" stroke-width="2.6"/>
<circle cx="457.1" cy="504" r="3.8" fill="#fff" stroke="#000" stroke-width="2.6"/>
<polygon points="251.5,346.66 246.7,355.86 256.3,355.86" fill="#fff" stroke="#000" stroke-width="3" stroke-linejoin="miter"/>
<polygon points="262.5,363.16 257.7,372.36 267.3,372.36" fill="#fff" stroke="#000" stroke-width="3" stroke-linejoin="miter"/>
<polygon points="275.4,368.46 270.6,377.66 280.2,377.66" fill="#fff" stroke="#000" stroke-width="3" stroke-linejoin="miter"/>
<polygon points="279.6,404.26 274.8,413.46 284.4,413.46" fill="#fff" stroke="#000" stroke-width="3" stroke-linejoin="miter"/>
<polygon points="286.7,460.06 281.9,469.26 291.5,469.26" fill="#fff" stroke="#000" stroke-width="3" stroke-linejoin="miter"/>
<polygon points="295.4,483.16 290.6,492.36 300.2,492.36" fill="#fff" stroke="#000" stroke-width="3" stroke-linejoin="miter"/>
<polygon points="299.6,499.46 294.8,508.66 304.4,508.66" fill="#fff" stroke="#000" stroke-width="3" stroke-linejoin="miter"/>
<path d="M149.8,345.4 L154.2,334.3 L164.1,334.3 Q169.4,334.6 169.1,339.85 Q168.8,345.4 164.1,345.4 Z" fill="#000"/>
<path d="M174.8,345.4 L179.2,334.3 L186.2,334.3 Q191.5,334.6 191.2,339.85 Q190.9,345.4 186.2,345.4 Z" fill="#000"/>
<path d="M196.2,345.4 L200.6,334.3 L208.5,334.3 Q213.8,334.6 213.5,339.85 Q213.2,345.4 208.5,345.4 Z" fill="#000"/>
<path d="M210.5,345.4 L214.9,334.3 L257.5,334.3 Q262.8,334.6 262.5,339.85 Q262.2,345.4 257.5,345.4 Z" fill="#000"/>
<circle cx="310.2" cy="373.1" r="5.4" fill="#000"/>
<circle cx="320.4" cy="427.9" r="5.4" fill="#000"/>
<circle cx="333.3" cy="408.7" r="5.4" fill="#000"/>
<circle cx="342.3" cy="481.3" r="5.4" fill="#000"/>
<circle cx="346.7" cy="503.8" r="5.4" fill="#000"/>
<polygon points="240.5,344.05 234.9,354.65 246.1,354.65" fill="#000" stroke="#000" stroke-width="0.8" stroke-linejoin="round"/>
<polygon points="248.3,399.65 242.7,410.25 253.9,410.25" fill="#000" stroke="#000" stroke-width="0.8" stroke-linejoin="round"/>
<polygon points="256.9,498.65 251.3,509.25 262.5,509.25" fill="#000" stroke="#000" stroke-width="0.8" stroke-linejoin="round"/>
<line x1="120.8" y1="630.5" x2="120.8" y2="850.6" stroke="#000" stroke-width="2.6" />
<line x1="108.8" y1="849.4" x2="503" y2="849.4" stroke="#000" stroke-width="2.6" />
<line x1="108.8" y1="630.4" x2="120.8" y2="630.4" stroke="#000" stroke-width="2.6" />
<line x1="108.8" y1="685.2" x2="120.8" y2="685.2" stroke="#000" stroke-width="2.6" />
<line x1="108.8" y1="740" x2="120.8" y2="740" stroke="#000" stroke-width="2.6" />
<line x1="108.8" y1="794.8" x2="120.8" y2="794.8" stroke="#000" stroke-width="2.6" />
<line x1="108.8" y1="849.6" x2="120.8" y2="849.6" stroke="#000" stroke-width="2.6" />
<line x1="115.8" y1="657.8" x2="120.8" y2="657.8" stroke="#000" stroke-width="2.4" />
<line x1="115.8" y1="712.6" x2="120.8" y2="712.6" stroke="#000" stroke-width="2.4" />
<line x1="115.8" y1="767.4" x2="120.8" y2="767.4" stroke="#000" stroke-width="2.4" />
<line x1="115.8" y1="822.2" x2="120.8" y2="822.2" stroke="#000" stroke-width="2.4" />
<line x1="155.12" y1="849.4" x2="155.12" y2="854.8" stroke="#000" stroke-width="2.4" />
<line x1="189.74" y1="849.4" x2="189.74" y2="854.8" stroke="#000" stroke-width="2.4" />
<line x1="224.36" y1="849.4" x2="224.36" y2="854.8" stroke="#000" stroke-width="2.4" />
<line x1="258.98" y1="849.4" x2="258.98" y2="854.8" stroke="#000" stroke-width="2.4" />
<line x1="293.6" y1="849.4" x2="293.6" y2="854.8" stroke="#000" stroke-width="2.4" />
<line x1="328.22" y1="849.4" x2="328.22" y2="854.8" stroke="#000" stroke-width="2.4" />
<line x1="362.84" y1="849.4" x2="362.84" y2="854.8" stroke="#000" stroke-width="2.4" />
<line x1="397.46" y1="849.4" x2="397.46" y2="854.8" stroke="#000" stroke-width="2.4" />
<line x1="432.08" y1="849.4" x2="432.08" y2="854.8" stroke="#000" stroke-width="2.4" />
<line x1="466.7" y1="849.4" x2="466.7" y2="854.8" stroke="#000" stroke-width="2.4" />
<rect x="138.1" y="603.5" width="24.2" height="23" fill="#000" stroke="none" stroke-width="0"/>
<rect x="139.4" y="634.7" width="21.6" height="19.6" fill="#fff" stroke="#000" stroke-width="2.5"/>
<text x="185.3" y="652.2" font-size="20.6" stroke="#000" stroke-width="0.3" font-family='"Liberation Serif"' textLength="138.5" lengthAdjust="spacingAndGlyphs"><tspan font-style="italic">N</tspan>B-DNJ Treated</text>
<rect x="139.6" y="686.57" width="12.3" height="162.83" fill="#fff" stroke="#000" stroke-width="2.4"/>
<line x1="144.25" y1="663.01" x2="144.25" y2="686.57" stroke="#000" stroke-width="2.2" />
<line x1="138.75" y1="663.01" x2="149.75" y2="663.01" stroke="#000" stroke-width="2.2" />
<rect x="123.8" y="719.72" width="15.4" height="129.68" fill="#000" stroke="none" stroke-width="0"/>
<line x1="131.5" y1="697.53" x2="131.5" y2="719.72" stroke="#000" stroke-width="2.2" />
<line x1="126" y1="697.53" x2="137" y2="697.53" stroke="#000" stroke-width="2.2" />
<rect x="172.8" y="768.22" width="14.4" height="81.18" fill="#fff" stroke="#000" stroke-width="2.4"/>
<line x1="178.5" y1="743.56" x2="178.5" y2="768.22" stroke="#000" stroke-width="2.2" />
<line x1="173" y1="743.56" x2="184" y2="743.56" stroke="#000" stroke-width="2.2" />
<rect x="158.9" y="843.3" width="13.4" height="6.1" fill="#000" stroke="none" stroke-width="0"/>
<rect x="207.2" y="844.39" width="14.4" height="5.01" fill="#fff" stroke="#000" stroke-width="2.4"/>
<rect x="278.5" y="684.1" width="10.7" height="165.3" fill="#fff" stroke="#000" stroke-width="2.4"/>
<line x1="282.35" y1="663.55" x2="282.35" y2="684.1" stroke="#000" stroke-width="2.2" />
<line x1="276.85" y1="663.55" x2="287.85" y2="663.55" stroke="#000" stroke-width="2.2" />
<rect x="260.6" y="692.05" width="16.7" height="157.35" fill="#000" stroke="none" stroke-width="0"/>
<line x1="268.95" y1="671.77" x2="268.95" y2="692.05" stroke="#000" stroke-width="2.2" />
<line x1="263.45" y1="671.77" x2="274.45" y2="671.77" stroke="#000" stroke-width="2.2" />
<rect x="311.8" y="711.23" width="12.3" height="138.17" fill="#fff" stroke="#000" stroke-width="2.4"/>
<line x1="316.45" y1="690.41" x2="316.45" y2="711.23" stroke="#000" stroke-width="2.2" />
<line x1="310.95" y1="690.41" x2="321.95" y2="690.41" stroke="#000" stroke-width="2.2" />
<rect x="298" y="757.81" width="13.4" height="91.59" fill="#000" stroke="none" stroke-width="0"/>
<line x1="304.7" y1="749.59" x2="304.7" y2="757.81" stroke="#000" stroke-width="2.2" />
<line x1="299.2" y1="749.59" x2="310.2" y2="749.59" stroke="#000" stroke-width="2.2" />
<rect x="346.7" y="743.29" width="13.3" height="106.11" fill="#fff" stroke="#000" stroke-width="2.4"/>
<line x1="351.85" y1="733.15" x2="351.85" y2="743.29" stroke="#000" stroke-width="2.2" />
<line x1="346.35" y1="733.15" x2="357.35" y2="733.15" stroke="#000" stroke-width="2.2" />
<rect x="332.1" y="833.71" width="13.9" height="15.69" fill="#000" stroke="none" stroke-width="0"/>
<line x1="339.05" y1="829.87" x2="339.05" y2="833.71" stroke="#000" stroke-width="2.2" />
<line x1="333.55" y1="829.87" x2="344.55" y2="829.87" stroke="#000" stroke-width="2.2" />
<rect x="417.8" y="679.99" width="10.8" height="169.41" fill="#fff" stroke="#000" stroke-width="2.4"/>
<line x1="421.7" y1="646.02" x2="421.7" y2="679.99" stroke="#000" stroke-width="2.2" />
<line x1="416.2" y1="646.02" x2="427.2" y2="646.02" stroke="#000" stroke-width="2.2" />
<rect x="400.2" y="669.31" width="17.2" height="180.09" fill="#000" stroke="none" stroke-width="0"/>
<line x1="408.8" y1="652.32" x2="408.8" y2="669.31" stroke="#000" stroke-width="2.2" />
<line x1="403.3" y1="652.32" x2="414.3" y2="652.32" stroke="#000" stroke-width="2.2" />
<rect x="451.9" y="695.34" width="10.3" height="154.06" fill="#fff" stroke="#000" stroke-width="2.4"/>
<line x1="455.55" y1="679.99" x2="455.55" y2="695.34" stroke="#000" stroke-width="2.2" />
<line x1="450.05" y1="679.99" x2="461.05" y2="679.99" stroke="#000" stroke-width="2.2" />
<rect x="434.3" y="679.99" width="16.4" height="169.41" fill="#000" stroke="none" stroke-width="0"/>
<line x1="442.5" y1="650.95" x2="442.5" y2="679.99" stroke="#000" stroke-width="2.2" />
<line x1="437" y1="650.95" x2="448" y2="650.95" stroke="#000" stroke-width="2.2" />
<rect x="486.1" y="704.65" width="10.2" height="144.75" fill="#fff" stroke="#000" stroke-width="2.4"/>
<line x1="489.7" y1="682.46" x2="489.7" y2="704.65" stroke="#000" stroke-width="2.2" />
<line x1="484.2" y1="682.46" x2="495.2" y2="682.46" stroke="#000" stroke-width="2.2" />
<rect x="468.4" y="677.8" width="16.5" height="171.6" fill="#000" stroke="none" stroke-width="0"/>
<line x1="476.65" y1="635.88" x2="476.65" y2="677.8" stroke="#000" stroke-width="2.2" />
<line x1="471.15" y1="635.88" x2="482.15" y2="635.88" stroke="#000" stroke-width="2.2" />
<circle cx="241.67" cy="883.5" r="1.5" fill="#000"/>
<circle cx="380.15" cy="883.5" r="1.5" fill="#000"/>
<text transform="translate(0.79,22.7) scale(0.96,1)" font-size="27.31" font-family='"Liberation Sans"' font-weight="bold" font-style="normal" stroke="#000" stroke-width="0" >A</text>
<text transform="translate(57.39,17.96) scale(1.05,1)" font-size="21.53" font-family='"Liberation Serif"' font-weight="normal" font-style="normal" stroke="#000" stroke-width="0.3" >SH</text>
<text transform="translate(132.47,17.86) scale(0.99,1)" font-size="21.53" font-family='"Liberation Serif"' font-weight="normal" font-style="normal" stroke="#000" stroke-width="0.3" >SH</text>
<text transform="translate(237.61,18.06) scale(1.03,1)" font-size="21.67" font-family='"Liberation Serif"' font-weight="normal" font-style="normal" stroke="#000" stroke-width="0.3" >SH</text>
<text transform="translate(322.42,17.96) scale(1.03,1)" font-size="21.53" font-family='"Liberation Serif"' font-weight="normal" font-style="normal" stroke="#000" stroke-width="0.3" >SH</text>
<text transform="translate(465.4,17.86) scale(1.03,1)" font-size="22.03" font-family='"Liberation Serif"' font-weight="normal" font-style="normal" stroke="#000" stroke-width="0.3" >WT</text>
<text transform="translate(86.71,13.6) scale(0.98,1)" font-size="12.5" font-family='"Liberation Serif"' font-weight="normal" font-style="normal" stroke="#000" stroke-width="0.3" >UT</text>
<text transform="translate(501.41,12.32) scale(1.04,1)" font-size="11.76" font-family='"Liberation Serif"' font-weight="normal" font-style="normal" stroke="#000" stroke-width="0.3" >UT</text>
<text transform="translate(159.4,13.16) scale(1.18,1)" font-size="10.6" font-family='"Liberation Serif"' font-weight="normal" font-style="normal" stroke="#000" stroke-width="0.3" >NB-DNJ</text>
<text transform="translate(266.3,13.74) scale(1.02,1)" font-size="12.4" font-family='"Liberation Serif"' font-weight="normal" font-style="normal" stroke="#000" stroke-width="0.3" >BMT</text>
<text transform="translate(351.2,13.62) scale(1.17,1)" font-size="11" font-family='"Liberation Serif"' font-weight="normal" font-style="normal" stroke="#000" stroke-width="0.3" >BMT + NB-DNJ</text>
<text transform="translate(43.96,257.68) rotate(-90) scale(0.97,1)" font-size="24.8" font-family='"Liberation Serif"' font-weight="normal" font-style="normal" stroke="#000" stroke-width="0.3" >Bar Crossing Score</text>
<text transform="translate(75.52,69.29) scale(1,1)" font-size="21.3" font-family='"Liberation Serif"' font-weight="normal" font-style="normal" stroke="#000" stroke-width="0.3" >120</text>
<text transform="translate(84.97,101.29) scale(1,1)" font-size="21.3" font-family='"Liberation Serif"' font-weight="normal" font-style="normal" stroke="#000" stroke-width="0.3" >80</text>
<text transform="translate(84.97,132.79) scale(1,1)" font-size="21.3" font-family='"Liberation Serif"' font-weight="normal" font-style="normal" stroke="#000" stroke-width="0.3" >40</text>
<text transform="translate(96.62,164.59) scale(1,1)" font-size="21.3" font-family='"Liberation Serif"' font-weight="normal" font-style="normal" stroke="#000" stroke-width="0.3" >0</text>
<text transform="translate(78.87,196.29) scale(1,1)" font-size="21.3" font-family='"Liberation Serif"' font-weight="normal" font-style="normal" stroke="#000" stroke-width="0.3" >-40</text>
<text transform="translate(79.07,226.59) scale(1,1)" font-size="21.3" font-family='"Liberation Serif"' font-weight="normal" font-style="normal" stroke="#000" stroke-width="0.3" >-80</text>
<text transform="translate(66.52,258.09) scale(1,1)" font-size="21.3" font-family='"Liberation Serif"' font-weight="normal" font-style="normal" stroke="#000" stroke-width="0.3" >-120</text>
<text transform="translate(112.62,286.19) scale(1,1)" font-size="21.3" font-family='"Liberation Serif"' font-weight="normal" font-style="normal" stroke="#000" stroke-width="0.3" >70</text>
<text transform="translate(156.91,286.19) scale(1,1)" font-size="21.3" font-family='"Liberation Serif"' font-weight="normal" font-style="normal" stroke="#000" stroke-width="0.3" >100</text>
<text transform="translate(206.7,286.19) scale(1,1)" font-size="21.3" font-family='"Liberation Serif"' font-weight="normal" font-style="normal" stroke="#000" stroke-width="0.3" >130</text>
<text transform="translate(256.48,286.19) scale(1,1)" font-size="21.3" font-family='"Liberation Serif"' font-weight="normal" font-style="normal" stroke="#000" stroke-width="0.3" >160</text>
<text transform="translate(306.27,286.19) scale(1,1)" font-size="21.3" font-family='"Liberation Serif"' font-weight="normal" font-style="normal" stroke="#000" stroke-width="0.3" >190</text>
<text transform="translate(356.55,286.19) scale(1,1)" font-size="21.3" font-family='"Liberation Serif"' font-weight="normal" font-style="normal" stroke="#000" stroke-width="0.3" >220</text>
<text transform="translate(406.33,286.19) scale(1,1)" font-size="21.3" font-family='"Liberation Serif"' font-weight="normal" font-style="normal" stroke="#000" stroke-width="0.3" >250</text>
<text transform="translate(456.12,286.19) scale(1,1)" font-size="21.3" font-family='"Liberation Serif"' font-weight="normal" font-style="normal" stroke="#000" stroke-width="0.3" >280</text>
<text transform="translate(388.02,148.11) scale(1,1)" font-size="21.6" font-family='"Liberation Serif"' font-weight="normal" font-style="normal" stroke="#000" stroke-width="0.3" >Crossing</text>
<text transform="translate(406.58,176.09) scale(0.95,1)" font-size="21.6" font-family='"Liberation Serif"' font-weight="normal" font-style="normal" stroke="#000" stroke-width="0.3" >Falling</text>
<text transform="translate(1.97,328.8) scale(0.94,1)" font-size="26.17" font-family='"Liberation Sans"' font-weight="bold" font-style="normal" stroke="#000" stroke-width="0" >B</text>
<text transform="translate(45.68,525.76) rotate(-90) scale(0.97,1)" font-size="25" font-family='"Liberation Serif"' font-weight="normal" font-style="normal" stroke="#000" stroke-width="0.3" >Inverted Screen Score</text>
<text transform="translate(67.3,478.47) rotate(-90) scale(1.1,1)" font-size="22.4" font-family='"Liberation Serif"' font-weight="normal" font-style="normal" stroke="#000" stroke-width="0.3" >(% of Time)</text>
<text transform="translate(71.72,347.49) scale(1,1)" font-size="21.3" font-family='"Liberation Serif"' font-weight="normal" font-style="normal" stroke="#000" stroke-width="0.3" >100</text>
<text transform="translate(82.37,389.42) scale(1,1)" font-size="21.3" font-family='"Liberation Serif"' font-weight="normal" font-style="normal" stroke="#000" stroke-width="0.3" >75</text>
<text transform="translate(82.37,430.19) scale(1,1)" font-size="21.3" font-family='"Liberation Serif"' font-weight="normal" font-style="normal" stroke="#000" stroke-width="0.3" >50</text>
<text transform="translate(82.37,470.69) scale(1,1)" font-size="21.3" font-family='"Liberation Serif"' font-weight="normal" font-style="normal" stroke="#000" stroke-width="0.3" >25</text>
<text transform="translate(93.02,513.19) scale(1,1)" font-size="21.3" font-family='"Liberation Serif"' font-weight="normal" font-style="normal" stroke="#000" stroke-width="0.3" >0</text>
<text transform="translate(110.58,540.29) scale(1,1)" font-size="21.3" font-family='"Liberation Serif"' font-weight="normal" font-style="normal" stroke="#000" stroke-width="0.3" >50</text>
<text transform="translate(178.93,540.29) scale(1,1)" font-size="21.3" font-family='"Liberation Serif"' font-weight="normal" font-style="normal" stroke="#000" stroke-width="0.3" >100</text>
<text transform="translate(252.73,540.29) scale(1,1)" font-size="21.3" font-family='"Liberation Serif"' font-weight="normal" font-style="normal" stroke="#000" stroke-width="0.3" >150</text>
<text transform="translate(327.12,540.29) scale(1,1)" font-size="21.3" font-family='"Liberation Serif"' font-weight="normal" font-style="normal" stroke="#000" stroke-width="0.3" >200</text>
<text transform="translate(400.02,540.29) scale(1,1)" font-size="21.3" font-family='"Liberation Serif"' font-weight="normal" font-style="normal" stroke="#000" stroke-width="0.3" >250</text>
<text transform="translate(474.26,540.29) scale(1,1)" font-size="21.3" font-family='"Liberation Serif"' font-weight="normal" font-style="normal" stroke="#000" stroke-width="0.3" >300</text>
<text transform="translate(235.9,566.37) scale(1.01,1)" font-size="24.36" font-family='"Liberation Serif"' font-weight="normal" font-style="normal" stroke="#000" stroke-width="0.3" >Age in Days</text>
<text transform="translate(2.71,620.78) scale(0.94,1)" font-size="26.85" font-family='"Liberation Sans"' font-weight="bold" font-style="normal" stroke="#000" stroke-width="0" >C</text>
<text transform="translate(45.52,831.87) rotate(-90) scale(0.99,1)" font-size="24" font-family='"Liberation Serif"' font-weight="normal" font-style="normal" stroke="#000" stroke-width="0.3" >Locomotion</text>
<text transform="translate(45.52,705.9) rotate(-90) scale(0.96,1)" font-size="24" font-family='"Liberation Serif"' font-weight="normal" font-style="normal" stroke="#000" stroke-width="0.3" >Activity</text>
<text transform="translate(68.09,816.76) rotate(-90) scale(1.06,1)" font-size="22.89" font-family='"Liberation Serif"' font-weight="normal" font-style="normal" stroke="#000" stroke-width="0.3" >(Frequency/3min)</text>
<text transform="translate(82.17,638.19) scale(1,1)" font-size="21.3" font-family='"Liberation Serif"' font-weight="normal" font-style="normal" stroke="#000" stroke-width="0.3" >80</text>
<text transform="translate(82.17,692.99) scale(1,1)" font-size="21.3" font-family='"Liberation Serif"' font-weight="normal" font-style="normal" stroke="#000" stroke-width="0.3" >60</text>
<text transform="translate(82.17,747.79) scale(1,1)" font-size="21.3" font-family='"Liberation Serif"' font-weight="normal" font-style="normal" stroke="#000" stroke-width="0.3" >40</text>
<text transform="translate(82.17,802.59) scale(1,1)" font-size="21.3" font-family='"Liberation Serif"' font-weight="normal" font-style="normal" stroke="#000" stroke-width="0.3" >20</text>
<text transform="translate(92.82,857.39) scale(1,1)" font-size="21.3" font-family='"Liberation Serif"' font-weight="normal" font-style="normal" stroke="#000" stroke-width="0.3" >0</text>
<text transform="translate(186.49,623.08) scale(0.95,1)" font-size="20.6" font-family='"Liberation Serif"' font-weight="normal" font-style="normal" stroke="#000" stroke-width="0.3" >Untreated</text>
<text transform="translate(127.1,884.96) scale(0.98,1)" font-size="21.6" font-family='"Liberation Serif"' font-weight="normal" font-style="normal" stroke="#000" stroke-width="0.3" >12</text>
<text transform="translate(161.55,884.79) scale(0.98,1)" font-size="21.6" font-family='"Liberation Serif"' font-weight="normal" font-style="normal" stroke="#000" stroke-width="0.3" >18</text>
<text transform="translate(196.5,884.96) scale(0.98,1)" font-size="21.6" font-family='"Liberation Serif"' font-weight="normal" font-style="normal" stroke="#000" stroke-width="0.3" >24</text>
<text transform="translate(265.58,884.96) scale(0.98,1)" font-size="21.6" font-family='"Liberation Serif"' font-weight="normal" font-style="normal" stroke="#000" stroke-width="0.3" >12</text>
<text transform="translate(300.03,884.79) scale(0.98,1)" font-size="21.6" font-family='"Liberation Serif"' font-weight="normal" font-style="normal" stroke="#000" stroke-width="0.3" >18</text>
<text transform="translate(334.98,884.96) scale(0.98,1)" font-size="21.6" font-family='"Liberation Serif"' font-weight="normal" font-style="normal" stroke="#000" stroke-width="0.3" >24</text>
<text transform="translate(404.06,884.96) scale(0.98,1)" font-size="21.6" font-family='"Liberation Serif"' font-weight="normal" font-style="normal" stroke="#000" stroke-width="0.3" >12</text>
<text transform="translate(438.51,884.79) scale(0.98,1)" font-size="21.6" font-family='"Liberation Serif"' font-weight="normal" font-style="normal" stroke="#000" stroke-width="0.3" >18</text>
<text transform="translate(473.46,884.96) scale(0.98,1)" font-size="21.6" font-family='"Liberation Serif"' font-weight="normal" font-style="normal" stroke="#000" stroke-width="0.3" >24</text>
<text transform="translate(122.19,924.53)" font-size="22.8" font-family='"Liberation Serif"' font-weight="normal" font-style="normal" stroke="#000" stroke-width="0.3" letter-spacing="0.87">Control</text>
<text transform="translate(121.48,947.89)" font-size="22.8" font-family='"Liberation Serif"' font-weight="normal" font-style="normal" stroke="#000" stroke-width="0.3" letter-spacing="1.44">Sandhoff</text>
<text transform="translate(245.34,924.83)" font-size="22.8" font-family='"Liberation Serif"' font-weight="normal" font-style="normal" stroke="#000" stroke-width="0.3" letter-spacing="0.61">BMT Treated</text>
<text transform="translate(244.27,947.89)" font-size="22.8" font-family='"Liberation Serif"' font-weight="normal" font-style="normal" stroke="#000" stroke-width="0.3" letter-spacing="1.44">Sandhoff</text>
<text transform="translate(414.5,924.53)" font-size="22.8" font-family='"Liberation Serif"' font-weight="normal" font-style="normal" stroke="#000" stroke-width="0.3" letter-spacing="0.65">Wild Type</text>
<text transform="translate(414.14,947.63)" font-size="22.8" font-family='"Liberation Serif"' font-weight="normal" font-style="normal" stroke="#000" stroke-width="0.3" letter-spacing="0.44">Normal</text>
</svg>
</body></html>
